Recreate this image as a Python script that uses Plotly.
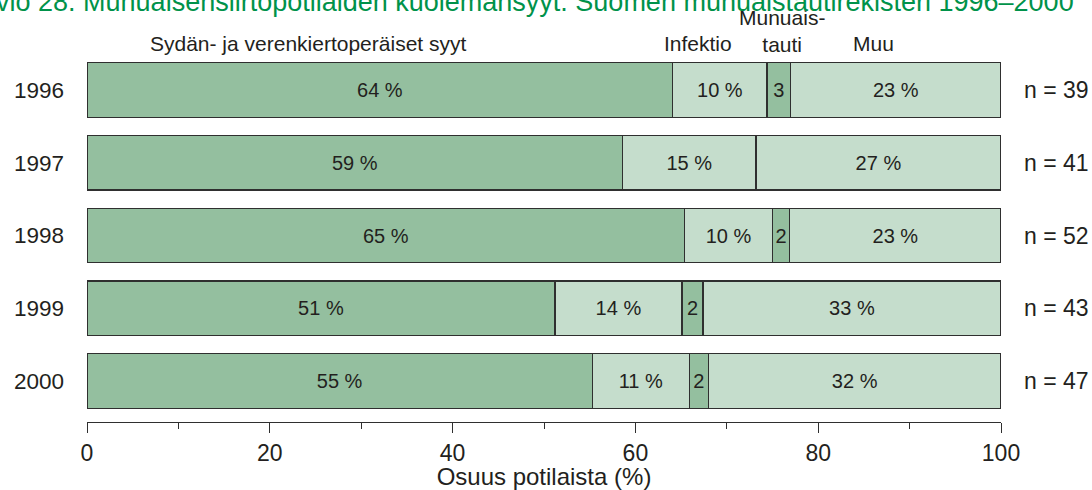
import plotly.graph_objects as go

years = ["1996", "1997", "1998", "1999", "2000"]
n_patients = [39, 41, 52, 43, 47]
cardio = [64.1, 58.6, 65.4, 51.2, 55.3]
infection = [10.3, 14.6, 9.6, 13.9, 10.6]
kidney = [2.6, 0.0, 1.9, 2.3, 2.1]
other = [23.0, 26.8, 23.1, 32.6, 32.0]

series_names = ["Sydän- ja verenkiertoperäiset syyt", "Infektio", "Munuaistauti", "Muu"]
dark = "#94bf9f"
light = "#c5ddcc"
edge = "#2f2f2f"
txt = "#231f20"
FONT = "Liberation Sans, Arial, Helvetica, sans-serif"

ypos = list(range(len(years)))


def pct_labels(vals):
    return [f"{round(v):d} %" if v > 0 else "" for v in vals]


def num_labels(vals):
    return [f"{round(v):d}" if v > 0 else "" for v in vals]


fig = go.Figure()
for name, vals, col, labels in [
    (series_names[0], cardio, dark, pct_labels(cardio)),
    (series_names[1], infection, light, pct_labels(infection)),
    (series_names[2], kidney, dark, num_labels(kidney)),
    (series_names[3], other, light, pct_labels(other)),
]:
    fig.add_trace(go.Bar(
        name=name, y=ypos, x=vals, orientation="h", width=0.75,
        marker=dict(color=col, line=dict(color=edge, width=1.2)),
        text=labels, textposition="inside", insidetextanchor="middle",
        textangle=0, constraintext="none",
        textfont=dict(family=FONT, size=20, color=txt),
        showlegend=False, cliponaxis=False, hoverinfo="skip",
    ))

# n labels on the right
for i, n in enumerate(n_patients):
    fig.add_annotation(x=1.0226, xref="paper", y=ypos[i], yref="y",
                       text=f"n = {n}", showarrow=False, xanchor="left",
                       yanchor="middle", font=dict(family=FONT, size=23, color=txt))

# column headers
headers = [
    ("Sydän- ja verenkiertoperäiset syyt", 24.2, 1.0188),
    ("Infektio", 66.8, 1.0188),
    ("Munuais-<br>tauti", 76.0, (422 - 31) / 372),
    ("Muu", 86.1, 1.0188),
]
for t, xv, yv in headers:
    fig.add_annotation(x=xv, xref="x", y=yv, yref="paper", text=t,
                       showarrow=False, xanchor="center", yanchor="middle",
                       font=dict(family=FONT, size=21, color=txt))

# title (partially cut at top in the original)
fig.add_annotation(x=(1076 - 87) / 914, xref="paper", y=(422 - 2) / 372, yref="paper",
                   text="Kuvio 28. Munuaisensiirtopotilaiden kuolemansyyt. Suomen munuaistautirekisteri 1996–2000",
                   showarrow=False, xanchor="right", yanchor="middle",
                   font=dict(family=FONT, size=27, color="#00924a"))

fig.update_layout(
    barmode="stack",
    width=1092, height=490,
    margin=dict(l=87, r=91, t=50, b=68, autoexpand=False),
    plot_bgcolor="white", paper_bgcolor="white",
    font=dict(family=FONT, color=txt),
    bargap=0.25,
    hovermode=False,
    xaxis=dict(
        range=[0, 100], dtick=20, tick0=0, automargin=False,
        showgrid=False, zeroline=False,
        showline=True, linecolor=edge, linewidth=1.2,
        ticks="outside", ticklen=10, tickwidth=1.2, tickcolor=edge,
        tickfont=dict(family=FONT, size=23, color=txt),
        minor=dict(dtick=10, ticks="outside", ticklen=6, tickwidth=1.2, tickcolor=edge),
        title=dict(text="Osuus potilaista (%)", standoff=14,
                   font=dict(family=FONT, size=24, color=txt)),
    ),
    yaxis=dict(
        range=[4.563, -0.55], automargin=False,
        tickvals=ypos, ticktext=years,
        showgrid=False, zeroline=False, showline=False,
        ticks="", ticklabelstandoff=22,
        tickfont=dict(family=FONT, size=22.5, color=txt),
    ),
)

fig.write_html("out.html", config={"displayModeBar": False},
               post_script="document.body.style.margin='0px';")
